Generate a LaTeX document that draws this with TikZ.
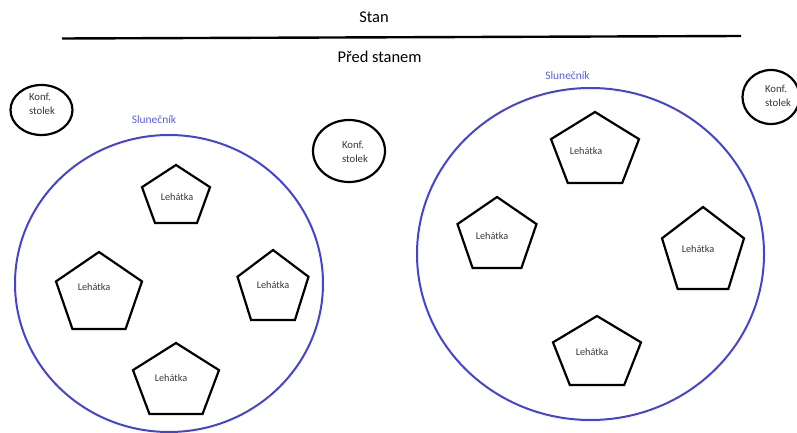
\documentclass[tikz,border=0pt]{standalone}
\usepackage{fontspec}
\setmainfont{Carlito}
\definecolor{umbrella}{RGB}{68,68,208}
\definecolor{umbrellatext}{RGB}{92,92,222}
\definecolor{txt}{RGB}{55,55,55}
\tikzset{
  heading/.style={font=\fontsize{16.5}{18}\selectfont, text=black, inner sep=0pt},
  umbrellaline/.style={draw=umbrella, line width=2bp},
  umbrellalabel/.style={font=\fontsize{11.5}{13}\selectfont, text=umbrellatext, inner sep=0pt},
  tableline/.style={draw=black, line width=2.2bp},
  tablelabel/.style={font=\fontsize{10.8}{13.5}\selectfont, text=txt, align=left, inner sep=0pt},
  chairline/.style={draw=black, line width=2.2bp, line join=miter},
  chairlabel/.style={font=\fontsize{10.3}{12}\selectfont, text=txt, inner sep=0pt},
}
% \chair{name}{cx}{top y}{width}{height}{text x}{text y}
\newcommand{\chair}[7]{%
  \draw[chairline] (#2,#3) -- ({#2+#4/2},{#3+0.382*#5}) -- ({#2+0.309*#4},{#3+#5})
    -- ({#2-0.309*#4},{#3+#5}) -- ({#2-#4/2},{#3+0.382*#5}) -- cycle;
  \node[chairlabel] (#1) at (#6,#7) {Lehátka};
}
\begin{document}
\begin{tikzpicture}[x=1bp,y=-1bp]
\useasboundingbox (0,0) rectangle (797,433);
% tent
\node[heading] (stan) at (374,17.5) {Stan};
\coordinate (lineL) at (62,38.5);
\coordinate (lineR) at (741,36);
\draw[line width=2.4bp] (lineL) -- (lineR);
\node[heading] (pred) at (379.5,57) {Před stanem};

% umbrellas
\draw[umbrellaline] (169,283.5) ellipse [x radius=154, y radius=148.5];
\node[umbrellalabel] (slun1) at (154,120) {Slunečník};
\draw[umbrellaline] (590.5,254) ellipse [x radius=173.5, y radius=166];
\node[umbrellalabel] (slun2) at (567.5,76) {Slunečník};

% coffee tables
\draw[tableline] (41.5,110) ellipse [x radius=31, y radius=25];
\node[tablelabel] (t1) at (42,104) {Konf.\\stolek};
\draw[tableline] (349,151) ellipse [x radius=36, y radius=31];
\node[tablelabel] (t2) at (355,152) {Konf.\\stolek};
\draw[tableline] (771,97) ellipse [x radius=28.5, y radius=27];
\node[tablelabel] (t3) at (778,96) {Konf.\\stolek};

% loungers, left umbrella
\chair{l1}{176}{165}{68}{58}{177}{197}
\chair{l2}{99}{252}{86}{77}{94}{287}
\chair{l3}{273}{250}{71}{70}{273}{285}
\chair{l4}{176}{343}{86}{71}{171}{378}
% loungers, right umbrella
\chair{r1}{595}{112}{88}{71}{586}{151}
\chair{r2}{497}{197}{79}{71}{492}{236}
\chair{r3}{703}{207}{82}{82}{698}{249}
\chair{r4}{597}{316}{88}{69}{592}{352}
\end{tikzpicture}
\end{document}
